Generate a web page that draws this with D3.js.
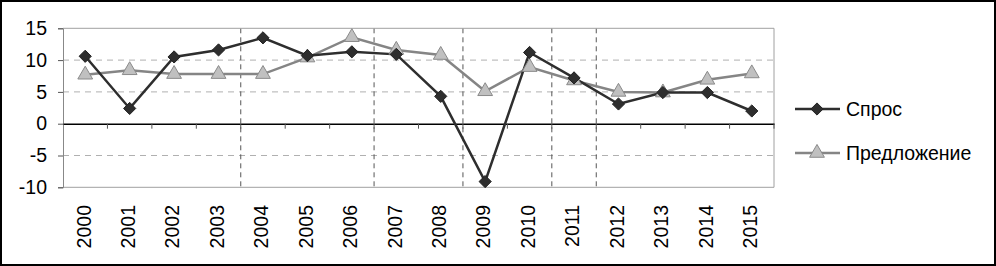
<!DOCTYPE html>
<html>
<head>
<meta charset="utf-8">
<script src="https://cdn.jsdelivr.net/npm/d3@7"></script>
<style>
  body { margin: 0; background: #fff; }
  svg { display: block; font-family: "Liberation Sans", Arial, sans-serif; }
</style>
</head>
<body>
<div id="chart"></div>
<script>
const years = ["2000","2001","2002","2003","2004","2005","2006","2007","2008","2009","2010","2011","2012","2013","2014","2015"];
const demand = [10.6, 2.4, 10.5, 11.6, 13.5, 10.7, 11.3, 10.9, 4.3, -9.1, 11.2, 7.2, 3.1, 4.9, 4.9, 2.0];
const supply = [7.7, 8.4, 7.8, 7.8, 7.8, 10.4, 13.6, 11.6, 10.8, 5.1, 8.9, 6.8, 5.0, 4.9, 6.9, 7.9];
const yTicks = [-10, -5, 0, 5, 10, 15];
// period breaks: dashed vertical line before these years
const breakYears = ["2004", "2007", "2009", "2011", "2012"];
const seriesNames = ["Спрос", "Предложение"];

const W = 996, H = 266;
const plot = { left: 63, right: 774, top: 28.3, bottom: 187.3 };

const svg = d3.select("#chart").append("svg")
    .attr("width", W)
    .attr("height", H);

// outer frame
svg.append("rect")
    .attr("x", 1).attr("y", 1)
    .attr("width", W - 2).attr("height", H - 2)
    .attr("fill", "#fff")
    .attr("stroke", "#000")
    .attr("stroke-width", 2);

const x = d3.scaleBand().domain(years).range([plot.left, plot.right]).padding(0);
const y = d3.scaleLinear().domain([-10, 15]).range([plot.bottom, plot.top]);
const cx = d => x(d) + x.bandwidth() / 2;

// horizontal grid
svg.append("g").selectAll("line")
    .data(yTicks.filter(v => v !== 0 && v !== 15 && v !== -10))
    .enter().append("line")
    .attr("x1", plot.left).attr("x2", plot.right)
    .attr("y1", d => y(d)).attr("y2", d => y(d))
    .attr("stroke", "#b0b0b0")
    .attr("stroke-width", 1)
    .attr("stroke-dasharray", "6,5");

// vertical period breaks
svg.append("g").selectAll("line")
    .data(breakYears)
    .enter().append("line")
    .attr("x1", d => x(d)).attr("x2", d => x(d))
    .attr("y1", plot.top).attr("y2", plot.bottom)
    .attr("stroke", "#555")
    .attr("stroke-width", 1)
    .attr("stroke-dasharray", "5,4");

// plot area border (top, right, bottom)
svg.append("path")
    .attr("d", `M${plot.left},${plot.top}H${plot.right}V${plot.bottom}H${plot.left}`)
    .attr("fill", "none")
    .attr("stroke", "#a0a0a0")
    .attr("stroke-width", 1);

// y axis
const yAxis = svg.append("g")
    .attr("transform", `translate(${plot.left},0)`)
    .call(d3.axisLeft(y).tickValues(yTicks).tickSize(5).tickPadding(11).tickFormat(d => String(d)));
yAxis.select(".domain").attr("stroke", "#888");
yAxis.selectAll(".tick line").attr("stroke", "#555");
yAxis.selectAll(".tick text")
    .attr("font-size", 19.5)
    .attr("fill", "#000")
    .attr("font-family", "'Liberation Sans', Arial, sans-serif");

// zero axis with category ticks
const xAxis = svg.append("g")
    .attr("transform", `translate(0,${y(0)})`)
    .call(d3.axisBottom(x).tickSize(0).tickFormat(""));
xAxis.select(".domain").attr("stroke", "#000").attr("stroke-width", 1.5);
svg.append("g").selectAll("line")
    .data(years.slice(1).concat(["end"]))
    .enter().append("line")
    .attr("x1", d => d === "end" ? plot.right : x(d))
    .attr("x2", d => d === "end" ? plot.right : x(d))
    .attr("y1", y(0)).attr("y2", y(0) + 5)
    .attr("stroke", "#555");

// rotated year labels
svg.append("g").selectAll("text")
    .data(years)
    .enter().append("text")
    .attr("transform", d => `translate(${cx(d) - 1.5},205) rotate(-90)`)
    .attr("text-anchor", "end")
    .attr("dy", "0.35em")
    .attr("font-size", 19.5)
    .text(d => d);

// lines
const line = d3.line().x((d, i) => cx(years[i])).y(d => y(d));
const diamond = d3.symbol().type(d3.symbolDiamond2).size(95);
const triangle = d3.symbol().type(d3.symbolTriangle).size(95);

svg.append("path")
    .datum(supply)
    .attr("d", line)
    .attr("fill", "none")
    .attr("stroke", "#858585")
    .attr("stroke-width", 2.5);

svg.append("path")
    .datum(demand)
    .attr("d", line)
    .attr("fill", "none")
    .attr("stroke", "#2e2e2e")
    .attr("stroke-width", 2.5);

svg.append("g").selectAll("path")
    .data(supply)
    .enter().append("path")
    .attr("transform", (d, i) => `translate(${cx(years[i])},${y(d)})`)
    .attr("d", triangle)
    .attr("fill", "#c0c0c0")
    .attr("stroke", "#8a8a8a")
    .attr("stroke-width", 1);

svg.append("g").selectAll("path")
    .data(demand)
    .enter().append("path")
    .attr("transform", (d, i) => `translate(${cx(years[i])},${y(d)})`)
    .attr("d", diamond)
    .attr("fill", "#2e2e2e")
    .attr("stroke", "#222")
    .attr("stroke-width", 1);

// legend
const legendRows = [
  { name: seriesNames[0], y: 109, stroke: "#2e2e2e", marker: diamond, fill: "#2e2e2e", mstroke: "#222" },
  { name: seriesNames[1], y: 153, stroke: "#858585", marker: triangle, fill: "#c0c0c0", mstroke: "#8a8a8a" }
];
const legend = svg.append("g");
legendRows.forEach(r => {
  legend.append("line")
      .attr("x1", 795).attr("x2", 840)
      .attr("y1", r.y).attr("y2", r.y)
      .attr("stroke", r.stroke)
      .attr("stroke-width", 2.5);
  legend.append("path")
      .attr("transform", `translate(817,${r.y})`)
      .attr("d", r.marker)
      .attr("fill", r.fill)
      .attr("stroke", r.mstroke);
  legend.append("text")
      .attr("x", 846)
      .attr("y", r.y)
      .attr("dy", "0.35em")
      .attr("font-size", 19.5)
      .text(r.name);
});
</script>
</body>
</html>
